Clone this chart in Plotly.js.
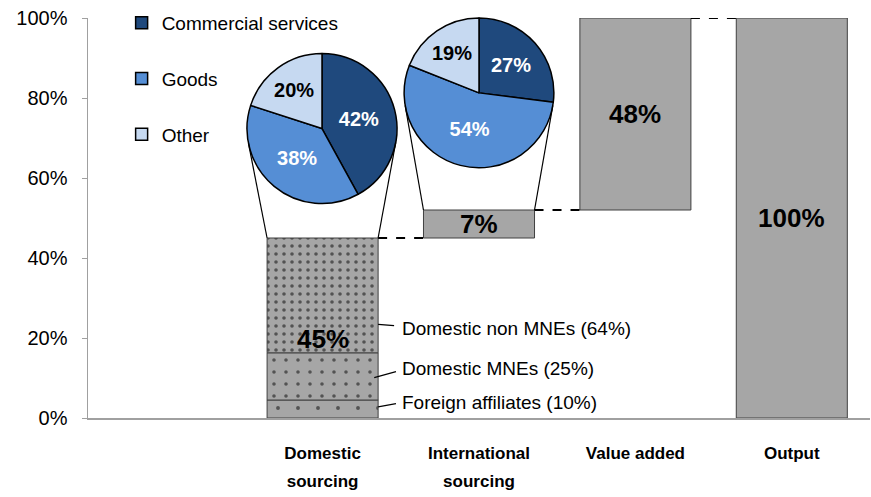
<!DOCTYPE html>
<html>
<head>
<meta charset="utf-8">
<script src="https://cdn.plot.ly/plotly-3.0.1.min.js"></script>
<style>html,body{margin:0;padding:0;background:#fff;}#chart{width:871px;height:497px;}</style>
</head>
<body>
<div id="chart"></div>
<script>
// ---- data ----
const categoryLine1 = ['Domestic', 'International', 'Value added', 'Output'];
const categoryLine2 = ['sourcing', 'sourcing', '', ''];
const categoryPositions = [1, 2, 3, 4];
const domesticSegments = ['Foreign affiliates', 'Domestic MNEs', 'Domestic non MNEs'];
const domesticSegmentShares = [10, 25, 64];          // % of domestic sourcing
const domesticSegmentValues = [4.5, 11.8, 28.7];     // % of output
const domesticTotal = 45;
const internationalValue = 7;
const valueAddedValue = 48;
const outputValue = 100;
const pieLabels = ['Commercial services', 'Goods', 'Other'];
const domesticMix = [42, 38, 20];
const internationalMix = [27, 54, 19];
const yTicks = [0, 20, 40, 60, 80, 100];

// ---- style ----
const FONT = '"Liberation Sans", Arial, sans-serif';
const GRAY = '#a6a6a6';
const EDGE = '#404040';
const pieColors = ['#1f497d', '#558ed5', '#c6d9f1'];
const W = 0.71;

const traces = [];
// stacked domestic segments with dotted patterns
const patSizes = [20, 12, 8];
const patSolid = [0.03, 0.07, 0.16];
let base = 0;
domesticSegmentValues.forEach((v, i) => {
  traces.push({
    type: 'bar', x: [categoryPositions[0]], y: [v], base: [base], width: W,
    name: domesticSegments[i], showlegend: false, hoverinfo: 'skip',
    marker: {color: GRAY, line: {color: EDGE, width: 1},
      pattern: {shape: '.', fillmode: 'overlay', fgcolor: '#000', size: patSizes[i], solidity: patSolid[i]}}
  });
  base += v;
});
const intlBase = domesticTotal;
const vaBase = domesticTotal + internationalValue;
traces.push({type: 'bar', x: [categoryPositions[1]], y: [internationalValue], base: [intlBase], width: W,
  showlegend: false, hoverinfo: 'skip', marker: {color: GRAY, line: {color: EDGE, width: 1}}});
traces.push({type: 'bar', x: [categoryPositions[2]], y: [valueAddedValue], base: [vaBase], width: W,
  showlegend: false, hoverinfo: 'skip', marker: {color: GRAY, line: {color: EDGE, width: 1}}});
traces.push({type: 'bar', x: [categoryPositions[3]], y: [outputValue], base: [0], width: W,
  showlegend: false, hoverinfo: 'skip', marker: {color: GRAY, line: {color: EDGE, width: 1}}});
// carrier for the second line of the category labels
traces.push({type: 'scatter', x: [null], y: [null], xaxis: 'x2', showlegend: false, hoverinfo: 'skip'});

// legend entries (one group per item to control spacing)
pieLabels.forEach((lab, i) => {
  traces.push({type: 'bar', x: [null], y: [null], name: lab, legendgroup: 'g' + i,
    marker: {color: pieColors[i], line: {color: '#000', width: 1.5}}, hoverinfo: 'skip'});
});

// pies (domains in plot-area fractions)
const plotW = 782, plotH = 398;
const pies = [
  {values: domesticMix, cx: 322 - 88, cy: 416 - 128, r: 75},
  {values: internationalMix, cx: 479 - 88, cy: 416 - 92, r: 75}
];
pies.forEach(p => {
  traces.push({
    type: 'pie', labels: pieLabels, values: p.values, sort: false, direction: 'clockwise', rotation: 0,
    domain: {x: [(p.cx - p.r) / plotW, (p.cx + p.r) / plotW], y: [(p.cy - p.r) / plotH, Math.min(1, (p.cy + p.r) / plotH)]},
    marker: {colors: pieColors, line: {color: '#000', width: 1.5}},
    texttemplate: '%{value}%', textposition: 'inside', insidetextorientation: 'horizontal',
    textfont: {family: FONT, size: 20, weight: 'bold', color: ['#fff', '#fff', '#000']},
    showlegend: false, hoverinfo: 'skip'
  });
});

// ---- shapes ----
const shapes = [];
const tops = [domesticTotal, vaBase, outputValue];
tops.forEach((t, i) => {
  shapes.push({type: 'line', xref: 'x', yref: 'y', x0: categoryPositions[i] + W / 2, x1: categoryPositions[i + 1] - W / 2,
    y0: t, y1: t, line: {color: '#000', width: 2, dash: 'dash'}});
});
function xPx(x) { return (x + 0.5) / 5 * plotW; }
function yPx(y) { return y / 100 * plotH; }
function tangent(px, py, p, side) {
  const dx = px - p.cx, dy = py - p.cy;
  const d = Math.hypot(dx, dy);
  const th = Math.atan2(dy, dx);
  const a = Math.acos(p.r / d);
  const cands = [th + a, th - a].map(t => [p.cx + p.r * Math.cos(t), p.cy + p.r * Math.sin(t)]);
  cands.sort((u, v) => u[0] - v[0]);
  return side < 0 ? cands[0] : cands[1];
}
const zoomBars = [[categoryPositions[0], domesticTotal], [categoryPositions[1], vaBase]];
zoomBars.forEach((b, i) => {
  [-1, 1].forEach(side => {
    const bx = xPx(b[0] + side * W / 2), by = yPx(b[1]);
    const t = tangent(bx, by, pies[i], side);
    shapes.push({type: 'line', xref: 'paper', yref: 'paper', x0: bx / plotW, y0: by / plotH, x1: t[0] / plotW, y1: t[1] / plotH,
      line: {color: '#000', width: 1.2}});
  });
});
const leaders = [
  [1.355, 2.8, 1.469, 3.6],
  [1.33, 10.1, 1.469, 11.6],
  [1.355, 23.4, 1.457, 23.1]
];
leaders.forEach(l => shapes.push({type: 'line', xref: 'x', yref: 'y', x0: l[0], y0: l[1], x1: l[2], y1: l[3], line: {color: '#000', width: 1.2}}));

// ---- annotations ----
const annotations = [];
const calloutY = [4.0, 12.4, 22.4];
domesticSegments.forEach((s, i) => {
  annotations.push({xref: 'x', yref: 'y', x: 1.495, y: calloutY[i], xanchor: 'left', yanchor: 'middle', showarrow: false,
    text: s + ' (' + domesticSegmentShares[i] + '%)', font: {family: FONT, size: 19, color: '#000'}});
});
const barLabels = [
  [categoryPositions[0], 19.8, domesticTotal],
  [categoryPositions[1], intlBase + internationalValue / 2, internationalValue],
  [categoryPositions[2], vaBase + valueAddedValue / 2, valueAddedValue],
  [categoryPositions[3], outputValue / 2, outputValue]
];
barLabels.forEach(b => annotations.push({xref: 'x', yref: 'y', x: b[0], y: b[1], showarrow: false,
  text: b[2] + '%', font: {family: FONT, size: 26, weight: 'bold', color: '#000'}}));

const xTickFont = {family: FONT, size: 17, weight: 'bold', color: '#000'};
const layout = {
  width: 871, height: 497,
  margin: {l: 88, r: 1, t: 18, b: 79, pad: 0},
  paper_bgcolor: '#fff', plot_bgcolor: '#fff',
  barmode: 'overlay',
  showlegend: true,
  legend: {x: 0.043, y: 1.035, xanchor: 'left', yanchor: 'top', bgcolor: 'rgba(0,0,0,0)',
    font: {family: FONT, size: 19, color: '#000'}, tracegroupgap: 28, itemwidth: 30},
  xaxis: {range: [-0.5, 4.5], tickvals: categoryPositions, ticktext: categoryLine1, showgrid: false, zeroline: false,
    showline: true, linecolor: '#a0a0a0', linewidth: 1.5, ticks: '', ticklabelstandoff: 19,
    tickfont: xTickFont, fixedrange: true},
  xaxis2: {range: [-0.5, 4.5], overlaying: 'x', anchor: 'y', side: 'bottom', tickvals: categoryPositions, ticktext: categoryLine2,
    showgrid: false, zeroline: false, showline: false, ticks: '', ticklabelstandoff: 51,
    tickfont: xTickFont, fixedrange: true},
  yaxis: {range: [0, 100], tickvals: yTicks, ticktext: yTicks.map(v => v + '%'), showgrid: false, zeroline: false,
    showline: true, linecolor: '#a0a0a0', linewidth: 1.5, ticks: 'outside', ticklen: 5, tickcolor: '#a0a0a0',
    ticklabelstandoff: 10, tickfont: {family: FONT, size: 20, color: '#000'}, fixedrange: true},
  shapes: shapes, annotations: annotations
};
Plotly.newPlot('chart', traces, layout, {displayModeBar: false, staticPlot: true});
</script>
</body>
</html>
